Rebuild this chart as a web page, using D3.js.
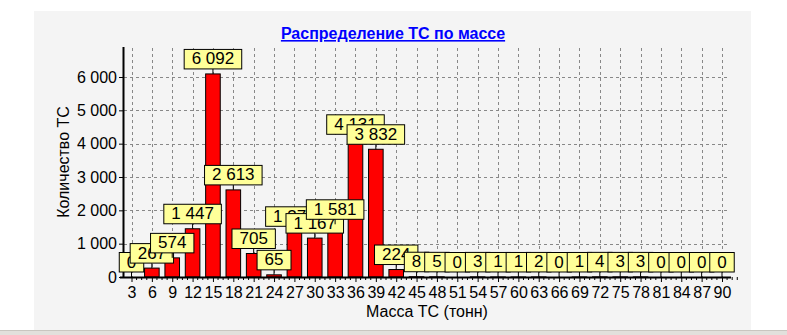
<!DOCTYPE html>
<html>
<head>
<meta charset="utf-8">
<script src="https://cdn.jsdelivr.net/npm/d3@7"></script>
<style>
  body { margin: 0; background: #fff; }
  svg text { font-family: "Liberation Sans", Arial, sans-serif; }
</style>
</head>
<body>
<div id="chart"></div>
<script>
// масса ТС (тонн) и количество ТС
const categories = [3, 6, 9, 12, 15, 18, 21, 24, 27, 30, 33, 36, 39, 42, 45,
  48, 51, 54, 57, 60, 63, 66, 69, 72, 75, 78, 81, 84, 87, 90];
const counts = [0, 267, 574, 1447, 6092, 2613, 705, 65, 1371, 1167, 1581, 4131, 3832, 224, 8,
  5, 0, 3, 1, 1, 2, 0, 1, 4, 3, 3, 0, 0, 0, 0];
const yTicks = [0, 1000, 2000, 3000, 4000, 5000, 6000];
const title = 'Распределение ТС по массе';
const xTitle = 'Масса ТС (тонн)';
const yTitle = 'Количество ТС';

const width = 787, height = 335;
const fmt = d3.formatLocale({ decimal: ',', thousands: ' ', grouping: [3], currency: ['', ''] }).format(',');

const svg = d3.select('#chart').append('svg')
  .attr('width', width).attr('height', height);

// panel background
svg.append('rect').attr('x', 34).attr('y', 11).attr('width', 717).attr('height', 319).attr('fill', '#f4f4f4');
svg.append('rect').attr('x', 0).attr('y', 330).attr('width', width).attr('height', 5).attr('fill', '#e2e0dc');
svg.append('line').attr('x1', 0).attr('x2', width).attr('y1', 330.5).attr('y2', 330.5).attr('stroke', '#c9c6c0');

const x = d3.scalePoint().domain(categories).range([131.5, 722]);
const y = d3.scaleLinear().domain([0, 6870]).range([277, 48]);
const step = x.step();
const barW = 14.6;

// grid
const grid = svg.append('g').attr('stroke', '#888').attr('stroke-dasharray', '3,3').attr('stroke-width', 1);
grid.selectAll('line.v').data(categories).enter().append('line')
  .attr('x1', d => Math.round(x(d)) + 0.5).attr('x2', d => Math.round(x(d)) + 0.5)
  .attr('y1', 48).attr('y2', 277);
grid.selectAll('line.h').data(yTicks.slice(1)).enter().append('line')
  .attr('x1', 124).attr('x2', 727)
  .attr('y1', d => Math.round(y(d)) + 0.5).attr('y2', d => Math.round(y(d)) + 0.5);

// bars
svg.append('g').selectAll('rect').data(counts).enter().append('rect')
  .attr('x', (d, i) => x(categories[i]) - barW / 2)
  .attr('y', d => y(d))
  .attr('width', barW)
  .attr('height', d => y(0) - y(d))
  .attr('fill', '#ff0000')
  .attr('stroke', '#000')
  .attr('stroke-width', 1);

// axes
const xAxis = svg.append('g').attr('transform', 'translate(0,277)')
  .call(d3.axisBottom(x).tickSize(5).tickPadding(5));
xAxis.select('.domain').remove();
xAxis.selectAll('text').attr('font-size', 16).attr('fill', '#000').attr('font-family', '"Liberation Sans", Arial, sans-serif');
// minor ticks
const minor = [];
categories.forEach(c => { for (let k = 1; k < 4; k++) minor.push(x(c) + k * step / 4); });
svg.append('g').selectAll('line').data(minor).enter().append('line')
  .attr('x1', d => d).attr('x2', d => d).attr('y1', 277).attr('y2', 280).attr('stroke', '#000');
svg.append('line').attr('x1', 120).attr('x2', 731).attr('y1', 277.5).attr('y2', 277.5)
  .attr('stroke', '#000').attr('stroke-width', 2);

const yAxis = svg.append('g').attr('transform', 'translate(123,0)')
  .call(d3.axisLeft(y).tickValues(yTicks).tickFormat(fmt).tickSize(4).tickPadding(2));
yAxis.select('.domain').remove();
yAxis.selectAll('text').attr('font-size', 16).attr('fill', '#000').attr('font-family', '"Liberation Sans", Arial, sans-serif');
svg.append('line').attr('x1', 123.5).attr('x2', 123.5).attr('y1', 47).attr('y2', 278)
  .attr('stroke', '#000').attr('stroke-width', 2);

// value labels, drawn left to right so later ones cover earlier ones
const labels = svg.append('g');
counts.forEach((v, i) => {
  const cx = x(categories[i]);
  const top = y(v);
  const g = labels.append('g');
  const rect = g.append('rect');
  const t = g.append('text').text(fmt(v))
    .attr('x', cx).attr('y', top - 9.5).attr('text-anchor', 'middle')
    .attr('font-size', 17).attr('fill', '#000');
  const w = t.node().getComputedTextLength() + 15;
  g.insert('line', 'rect').attr('x1', cx).attr('x2', cx).attr('y1', top - 5).attr('y2', top).attr('stroke', '#000');
  rect.attr('x', cx - w / 2).attr('y', top - 24.5).attr('width', w).attr('height', 19.5)
    .attr('fill', '#ffff99').attr('stroke', '#000').attr('stroke-width', 1);
});

// titles
svg.append('text').attr('x', 393).attr('y', 39).attr('text-anchor', 'middle')
  .attr('font-size', 16).attr('font-weight', 'bold').attr('fill', '#0000ff')
  .attr('text-decoration', 'underline').text(title);
svg.append('text').attr('x', 427).attr('y', 317).attr('text-anchor', 'middle')
  .attr('font-size', 16).attr('fill', '#000').text(xTitle);
svg.append('text').attr('transform', 'translate(69,162) rotate(-90)').attr('text-anchor', 'middle')
  .attr('font-size', 16).attr('fill', '#000').text(yTitle);
</script>
</body>
</html>
